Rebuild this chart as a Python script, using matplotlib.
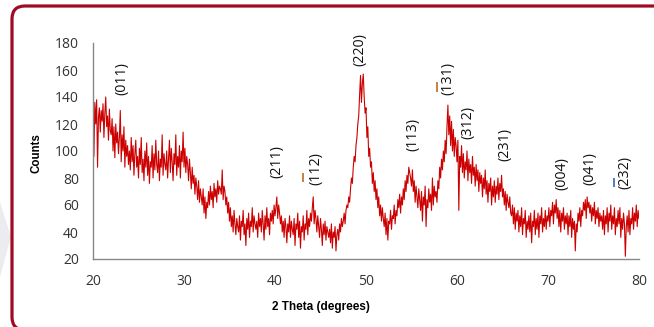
import numpy as np
import matplotlib
matplotlib.use("Agg")
import matplotlib.pyplot as plt
from matplotlib.patches import FancyBboxPatch, Polygon
from matplotlib.transforms import IdentityTransform

# ---- data ----
theta_start = 20.0
theta_step = 0.1
counts = [
    128, 96, 136, 120, 138, 88, 125, 132, 114, 130, 122, 135, 110, 128, 140, 118, 126, 108, 131, 115,
    112, 124, 100, 118, 95, 120, 106, 114, 98, 110, 130, 92, 112, 100, 118, 88, 108, 96, 104, 90,
    100, 86, 110, 92, 104, 82, 98, 108, 88, 96, 80, 102, 90, 110, 84, 94, 78, 100, 88, 106,
    82, 96, 76, 92, 88, 104, 80, 98, 86, 108, 90, 84, 100, 78, 94, 88, 112, 82, 98, 90,
    86, 100, 80, 94, 108, 84, 102, 92, 78, 98, 90, 112, 82, 96, 88, 104, 80, 100, 92, 114,
    88, 102, 84, 96, 90, 78, 94, 84, 72, 88, 76, 82, 68, 80, 74, 64, 78, 62, 72, 66,
    60, 72, 54, 66, 50, 62, 58, 70, 60, 74, 64, 70, 58, 76, 66, 72, 62, 78, 68, 74,
    72, 68, 86, 64, 74, 70, 60, 66, 54, 62, 48, 58, 44, 52, 40, 56, 46, 38, 50, 44,
    40, 52, 34, 48, 44, 56, 38, 46, 30, 50, 42, 54, 36, 48, 44, 58, 40, 52, 46, 42,
    48, 36, 54, 44, 50, 40, 56, 46, 34, 52, 42, 58, 44, 50, 38, 54, 48, 56, 46, 60,
    52, 58, 66, 50, 60, 54, 46, 52, 40, 48, 36, 50, 44, 32, 46, 40, 52, 36, 48, 42,
    38, 50, 30, 46, 42, 54, 36, 48, 28, 44, 40, 52, 34, 46, 42, 56, 38, 50, 44, 54,
    48, 58, 66, 46, 56, 50, 40, 52, 44, 36, 50, 42, 30, 46, 38, 48, 34, 44, 40, 36,
    42, 32, 46, 28, 40, 36, 44, 26, 38, 42, 34, 46, 40, 50, 44, 48, 54, 46, 56, 60,
    58, 66, 62, 72, 80, 76, 88, 96, 92, 104, 110, 120, 126, 142, 156, 136, 150, 157, 140, 128,
    132, 110, 118, 96, 102, 88, 92, 76, 84, 70, 78, 64, 72, 58, 66, 52, 60, 48, 58, 50,
    44, 54, 38, 50, 34, 48, 46, 56, 42, 52, 50, 60, 46, 56, 52, 64, 58, 68, 54, 66,
    60, 72, 64, 78, 70, 82, 76, 88, 84, 80, 74, 86, 70, 78, 62, 74, 66, 58, 72, 64,
    56, 70, 48, 66, 60, 74, 44, 64, 58, 72, 62, 68, 56, 80, 60, 74, 66, 70, 62, 78,
    72, 88, 80, 94, 86, 100, 92, 108, 98, 118, 134, 112, 126, 104, 122, 100, 116, 96, 110, 104,
    92, 108, 56, 96, 88, 104, 84, 98, 80, 92, 86, 100, 78, 94, 84, 90, 76, 96, 82, 88,
    74, 90, 78, 86, 70, 84, 76, 82, 66, 80, 72, 86, 68, 78, 62, 76, 70, 80, 60, 74,
    66, 78, 62, 74, 68, 80, 64, 76, 70, 82, 66, 72, 60, 70, 56, 68, 62, 58, 66, 54,
    52, 60, 46, 58, 42, 54, 48, 56, 40, 52, 44, 58, 38, 50, 46, 56, 36, 48, 42, 52,
    40, 54, 32, 48, 44, 56, 38, 50, 42, 54, 36, 52, 46, 58, 40, 50, 44, 56, 42, 52,
    48, 58, 44, 56, 52, 62, 46, 60, 54, 64, 50, 58, 44, 56, 40, 54, 48, 58, 42, 52,
    46, 54, 38, 52, 44, 56, 36, 50, 42, 48, 26, 46, 40, 54, 48, 58, 44, 56, 52, 62,
    56, 64, 50, 66, 58, 62, 54, 60, 48, 58, 52, 62, 46, 56, 50, 58, 44, 54, 48, 52,
    42, 56, 38, 52, 46, 58, 40, 54, 48, 60, 42, 52, 46, 58, 38, 50, 44, 56, 46, 58,
    36, 50, 42, 54, 46, 22, 44, 52, 40, 56, 38, 50, 46, 58, 42, 54, 48, 60, 44, 56,
    50,
]
theta = theta_start + theta_step * np.arange(len(counts))

peak_labels = ["(011)", "(211)", "(112)", "(220)", "(113)", "(131)",
               "(312)", "(231)", "(004)", "(041)", "(232)"]
label_x = [23.2, 40.2, 44.5, 49.3, 55.2, 59.0, 61.2, 65.3, 71.5, 74.6, 78.5]
label_y = [154, 92, 87, 175, 112, 154, 121, 105, 83, 87, 84]

# overbar marks
bar_x = [43.1, 57.8, 77.2]
bar_y0 = [77, 144, 73]
bar_y1 = [84, 151, 80]
bar_colors = ["#C07830", "#C07830", "#4472C4"]

x_ticks = [20, 30, 40, 50, 60, 70, 80]
y_ticks = [20, 40, 60, 80, 100, 120, 140, 160, 180]

# ---- figure ----
fig = plt.figure(figsize=(6.54, 3.27), dpi=100)
fig.patch.set_facecolor("white")

fig.patches.append(Polygon([(0, 125), (11, 90), (0, 50)], closed=True,
                           transform=IdentityTransform(), facecolor="#ECECF0",
                           edgecolor="none", zorder=0))

frame = FancyBboxPatch((12, -3), 700, 324,
                       boxstyle="round,pad=0,rounding_size=13",
                       transform=IdentityTransform(), facecolor="none",
                       edgecolor="#9E0B25", linewidth=2.3, zorder=1)
fig.patches.append(frame)

ax = fig.add_axes([93 / 654, 68 / 327, 546 / 654, 216 / 327])
ax.set_facecolor("none")
ax.plot(theta, counts, color="#CC0000", linewidth=0.8)

ax.set_xlim(20, 80)
ax.set_ylim(20, 180)
ax.set_xticks(x_ticks)
ax.set_yticks(y_ticks)
for s in ["top", "right"]:
    ax.spines[s].set_visible(False)
for s in ["left", "bottom"]:
    ax.spines[s].set_color("#888888")
    ax.spines[s].set_linewidth(1.0)
ax.tick_params(axis="both", length=0, labelsize=10, labelcolor="#333333")
ax.tick_params(axis="y", pad=10)
ax.tick_params(axis="x", pad=11)
for lab in ax.get_xticklabels() + ax.get_yticklabels():
    lab.set_family("Open Sans")

for t, x, y in zip(peak_labels, label_x, label_y):
    ax.text(x, y, t, rotation=90, ha="center", va="center",
            fontsize=10.3, family="Open Sans", color="#111111")

for x, y0, y1, c in zip(bar_x, bar_y0, bar_y1, bar_colors):
    ax.plot([x, x], [y0, y1], color=c, linewidth=1.3, solid_capstyle="butt")

fig.text(37 / 654, 1 - 153 / 327, "Counts", rotation=90, ha="center",
         va="center", fontsize=8.3, fontweight="bold", family="Liberation Sans")
fig.text(321 / 654, 1 - 307 / 327, "2 Theta (degrees)", ha="center",
         va="center", fontsize=8.5, fontweight="bold", family="Liberation Sans")

fig.savefig("out.png", dpi=100)
